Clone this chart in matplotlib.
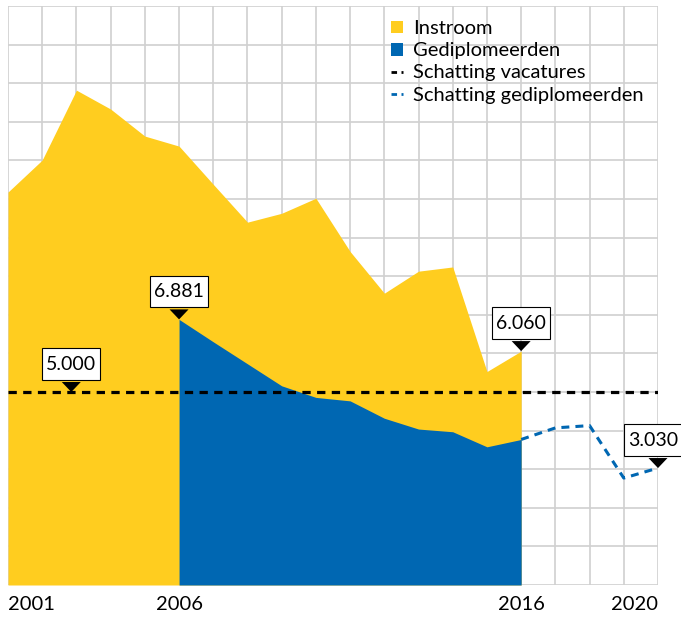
import numpy as np
import matplotlib.pyplot as plt
import matplotlib.transforms as mtransforms
from matplotlib.patches import Patch, Polygon
from matplotlib.lines import Line2D
from matplotlib.path import Path

# MARK: - Data
years_instroom = list(range(2001, 2017))
instroom = [10180, 11010, 12820, 12330, 11630, 11370, 10380, 9400,
            9630, 10020, 8640, 7560, 8130, 8240, 5530, 6060]

years_gediplomeerd = list(range(2006, 2017))
gediplomeerden = [6881, 6300, 5730, 5160, 4860, 4770, 4320, 4040, 3970, 3580, 3770]

years_schatting = [2016, 2017, 2018, 2019, 2020]
schatting_gediplomeerden = [3770, 4070, 4130, 2770, 3030]

schatting_vacatures = 5000

callouts = [(2002.85, 5000, "5.000"), (2006, 6881, "6.881"),
            (2016, 6060, "6.060"), (2020, 3030, "3.030")]

tick_years = [2001, 2006, 2016, 2020]

YELLOW = "#FFCD1F"
BLUE = "#0067B2"
GRID = "#D0D0D0"

plt.rcParams["font.family"] = ["Lato", "DejaVu Sans"]


def _callout_box(x0, y0, width, height, mutation_size):
    """Rectangle with more padding top/bottom than left/right."""
    px, py = 0.2 * mutation_size, 0.38 * mutation_size
    x0, y0 = x0 - px, y0 - py
    x1, y1 = x0 + width + 2 * px, y0 + height + 2 * py
    return Path([(x0, y0), (x1, y0), (x1, y1), (x0, y1), (x0, y0)], closed=True)


W, H = 681, 617
fig = plt.figure(figsize=(W / 100, H / 100), dpi=100)
ax = fig.add_axes([8 / W, (H - 585) / H, 650 / W, 579 / H])

ax.set_xlim(2001, 2020)
ax.set_ylim(0, 15000)
ax.set_yticks(np.arange(0, 15001, 1000))
ax.grid(True, color=GRID, linewidth=1.2)
ax.set_axisbelow(True)
for s in ax.spines.values():
    s.set_visible(False)
ax.tick_params(length=0, labelleft=False)

# x labels only on a few years, outer ones aligned to the edge
ax.set_xticks(np.arange(2001, 2021))
ax.set_xticklabels([str(y) if y in tick_years else "" for y in range(2001, 2021)],
                   fontsize=14.5)
ax.tick_params(axis="x", pad=8)
labels = ax.get_xticklabels()
labels[0].set_ha("left")
labels[-1].set_ha("right")

# MARK: - Areas and lines
ax.fill_between(years_instroom, instroom, 0, color=YELLOW, linewidth=0, zorder=2)
ax.fill_between(years_gediplomeerd, gediplomeerden, 0, color=BLUE, linewidth=0, zorder=3)
ax.plot([2001, 2020], [schatting_vacatures] * 2, color="black", lw=2.3,
        dashes=(2.6, 2.0), zorder=4)
ax.plot(years_schatting, schatting_gediplomeerden, color=BLUE, lw=2.2,
        dashes=(2.6, 2.0), zorder=4)

# MARK: - Callouts (box + black pointer)
for x, y, txt in callouts:
    tri_trans = fig.dpi_scale_trans + mtransforms.ScaledTranslation(x, y, ax.transData)
    tri = Polygon([[-0.095, 0.10], [0.095, 0.10], [0, 0]], closed=True,
                  facecolor="black", edgecolor="none", transform=tri_trans,
                  clip_on=False, zorder=8)
    ax.add_patch(tri)
    dx = -5 if x == 2020 else 0    # keep the last box inside the picture
    ax.annotate(txt, (x, y), xytext=(dx, 28), textcoords="offset pixels",
                ha="center", va="center", fontsize=14, zorder=7,
                annotation_clip=False,
                bbox=dict(boxstyle=_callout_box, facecolor="white",
                          edgecolor="black", linewidth=0.8))

# MARK: - Legend
handles = [
    Patch(facecolor=YELLOW, edgecolor="none", label="Instroom"),
    Patch(facecolor=BLUE, edgecolor="none", label="Gediplomeerden"),
    Line2D([], [], color="black", lw=2.0, dashes=(2.0, 1.6), label="Schatting vacatures"),
    Line2D([], [], color=BLUE, lw=2.0, dashes=(2.0, 1.6), label="Schatting gediplomeerden"),
]
ax.legend(handles=handles, loc="upper left",
          bbox_to_anchor=((391 - 8) / 650, 1 - 14 / 579),
          frameon=False, fontsize=14.5, handlelength=0.6, handleheight=0.6,
          handletextpad=0.5, labelspacing=0.26, borderaxespad=0, borderpad=0)

fig.savefig("out.png", dpi=100)
